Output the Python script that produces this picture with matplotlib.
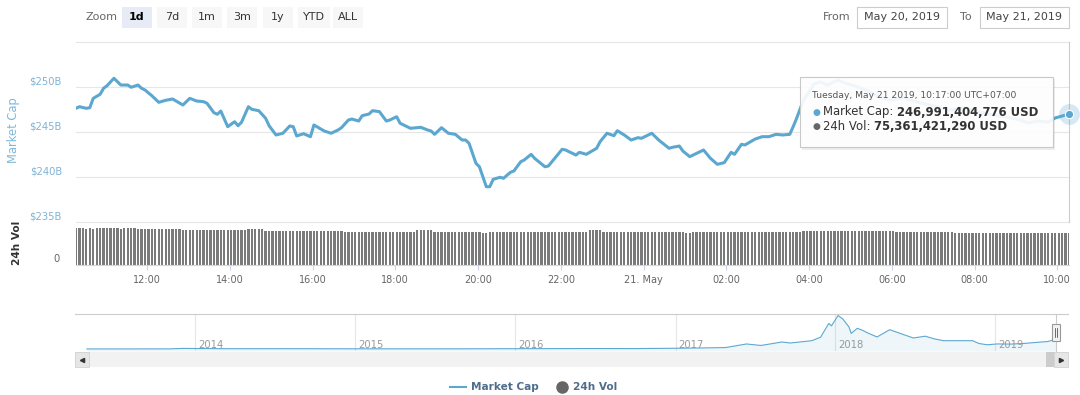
import matplotlib
matplotlib.use("Agg")
import matplotlib.pyplot as plt
import matplotlib.dates as mdates
import matplotlib.transforms as mtransforms
from matplotlib.patches import Rectangle
from matplotlib.lines import Line2D
import numpy as np
import pandas as pd

plt.rcParams['font.family'] = ['DejaVu Sans']

# ---------------- data ----------------
start_time = "2019-05-20 10:17"
end_time = "2019-05-21 10:17"

# market cap (billions USD), minutes after start_time
mcap_offset_min = [0, 5, 15, 20, 25, 35, 40, 45, 55, 65, 75, 80, 90, 95, 100, 110, 120, 130, 140, 155,
                   165, 175, 185, 190, 200, 205, 210, 220, 230, 235, 240, 250, 255, 265, 275, 280, 290, 300, 310, 315,
                   320, 330, 340, 345, 360, 370, 380, 385, 395, 400, 410, 415, 425, 430, 440, 450, 455, 465, 470, 485,
                   500, 510, 515, 520, 530, 540, 550, 560, 565, 570, 580, 585, 595, 600, 605, 615, 620, 630, 635, 645,
                   650, 660, 665, 680, 685, 705, 710, 725, 730, 740, 755, 760, 770, 780, 785, 795, 805, 815, 820, 835,
                   845, 860, 865, 875, 880, 890, 900, 910, 920, 930, 940, 950, 955, 965, 970, 980, 985, 995, 1005, 1015,
                   1025, 1035, 1040, 1045, 1055, 1065, 1070, 1080, 1090, 1105, 1115, 1130, 1145, 1160, 1180, 1200, 1225, 1245, 1265, 1290,
                   1310, 1330, 1355, 1370, 1380, 1395, 1410, 1420, 1440]
mcap_billion = [247.63, 247.81, 247.63, 247.70, 248.74, 249.19, 249.86, 250.14, 250.97, 250.22, 250.22, 249.97, 250.22, 249.86, 249.67, 249.03, 248.30, 248.52, 248.67, 248.00,
                248.74, 248.44, 248.37, 248.19, 247.14, 246.97, 247.33, 245.59, 246.14, 245.70, 246.08, 247.81, 247.52, 247.37, 246.52, 245.70, 244.67, 244.86, 245.67, 245.59,
                244.56, 244.81, 244.48, 245.78, 245.11, 244.86, 245.22, 245.48, 246.33, 246.44, 246.22, 246.81, 247.00, 247.37, 247.26, 246.22, 246.33, 246.70, 245.97, 245.41,
                245.52, 245.22, 245.11, 244.74, 245.48, 244.86, 244.74, 244.11, 244.11, 243.74, 241.52, 241.14, 238.92, 238.92, 239.74, 239.97, 239.86, 240.52, 240.67, 241.70,
                241.89, 242.52, 242.08, 241.14, 241.22, 243.08, 243.00, 242.44, 242.74, 242.52, 243.19, 243.92, 244.86, 244.59, 245.14, 244.67, 244.11, 244.37, 244.30, 244.86,
                244.11, 243.19, 243.30, 243.44, 242.89, 242.26, 242.63, 243.00, 242.08, 241.41, 241.59, 242.74, 242.52, 243.63, 243.56, 244.00, 244.22, 244.48, 244.48, 244.74,
                244.67, 244.74, 245.59, 246.52, 248.56, 249.67, 250.33, 250.56, 250.22, 250.78, 250.44, 250.11, 249.67, 249.11, 248.56, 248.78, 248.22, 247.89, 247.44, 247.67,
                247.22, 246.89, 246.56, 246.33, 246.00, 246.22, 246.11, 246.56, 246.99]

# 24h volume (billions USD), one bar every 5 minutes from start_time
vol_step_min = 5
vol_billion = [
    85.2, 85.0, 85.3, 84.8, 85.1, 84.6, 85.3, 85.4, 85.0, 84.9, 85.2, 85.0,
    85.1, 84.8, 85.0, 85.3, 85.1, 84.9, 84.7, 84.5, 83.2, 83.0, 82.9, 83.1,
    83.0, 82.8, 83.0, 82.7, 82.9, 83.0, 82.6, 82.4, 81.6, 81.5, 81.4, 81.5,
    81.6, 81.4, 81.5, 81.3, 81.5, 81.6, 81.4, 81.5, 81.3, 81.5, 81.4, 81.6,
    81.5, 81.7, 83.4, 83.6, 83.5, 83.3, 83.4, 80.2, 80.0, 79.9, 80.1, 80.0,
    79.8, 80.0, 80.1, 79.9, 80.0, 79.8, 80.0, 80.1, 79.9, 79.8, 80.0, 79.9,
    79.6, 79.5, 79.4, 79.6, 79.5, 79.3, 77.6, 77.5, 77.4, 77.6, 77.5, 77.3,
    77.5, 77.6, 77.4, 77.5, 77.3, 77.5, 77.6, 77.4, 77.5, 77.5, 77.3, 77.4,
    77.5, 77.6, 77.4, 80.6, 80.8, 80.7, 80.5, 80.4, 77.6, 77.5, 77.4, 77.5,
    77.6, 77.4, 77.5, 77.3, 77.5, 77.6, 77.4, 77.5, 77.2, 75.6, 75.4, 75.5,
    77.5, 77.6, 77.4, 77.5, 77.3, 77.5, 77.6, 77.4, 77.5, 77.5, 77.3, 77.4,
    77.5, 77.4, 77.6, 77.5, 77.3, 77.5, 77.4, 77.6, 77.5, 77.3, 77.4, 77.5,
    77.6, 77.4, 77.5, 77.3, 77.5, 80.4, 80.6, 80.5, 80.3, 77.6, 77.5, 77.4,
    77.5, 77.3, 77.5, 77.6, 77.4, 77.5, 77.5, 77.3, 77.4, 77.5, 77.6, 77.4,
    77.5, 77.3, 77.5, 77.6, 77.4, 77.5, 77.3, 77.4, 77.5, 75.5, 75.3, 77.4,
    77.5, 77.6, 77.4, 77.5, 77.3, 77.5, 77.6, 77.4, 77.5, 77.5, 77.3, 77.4,
    77.5, 77.4, 77.6, 77.5, 77.3, 77.5, 77.4, 77.6, 77.5, 77.3, 77.4, 77.5,
    77.6, 77.4, 77.5, 77.3, 77.5, 77.6, 77.4, 79.2, 79.0, 79.1, 78.9, 79.0,
    79.1, 79.0, 78.8, 79.0, 79.2, 79.1, 78.9, 79.0, 79.1, 79.0, 78.8, 79.0,
    79.1, 79.0, 78.9, 79.0, 79.1, 78.9, 79.0, 78.8, 78.9, 79.0, 77.4, 77.5,
    77.6, 77.4, 77.5, 77.3, 77.5, 77.6, 77.4, 77.5, 77.5, 77.3, 77.4, 77.5,
    77.4, 77.6, 77.5, 74.0, 74.1, 73.9, 74.0, 74.2, 73.8, 74.0, 74.1, 73.9,
    74.0, 73.8, 74.1, 74.0, 73.9, 74.0, 74.2, 74.0, 73.9, 74.1, 74.0, 73.8,
    74.0, 74.1, 73.9, 74.0, 74.1, 73.9, 74.0, 75.3, 75.5, 75.4, 75.3, 75.4,
    75.36]

x_tick_times = ["2019-05-20 12:00", "2019-05-20 14:00", "2019-05-20 16:00", "2019-05-20 18:00",
                "2019-05-20 20:00", "2019-05-20 22:00", "2019-05-21 00:00", "2019-05-21 02:00",
                "2019-05-21 04:00", "2019-05-21 06:00", "2019-05-21 08:00", "2019-05-21 10:00"]
x_tick_labels = ["12:00", "14:00", "16:00", "18:00", "20:00", "22:00", "21. May",
                 "02:00", "04:00", "06:00", "08:00", "10:00"]
grid_values = [235, 240, 245, 250, 255]
y_tick_values = [235, 240, 245, 250]
y_tick_labels = ["$235B", "$240B", "$245B", "$250B"]

# navigator: total market cap history (billions USD)
nav_dates = ["2013-04-28", "2013-08-01", "2013-11-01", "2013-12-04", "2014-01-15", "2014-04-01", "2014-08-01",
             "2014-12-01", "2015-04-01", "2015-09-01", "2016-01-01", "2016-06-15", "2016-10-01", "2017-01-01",
             "2017-03-01", "2017-04-25", "2017-06-12", "2017-07-15", "2017-09-01", "2017-09-20", "2017-11-08",
             "2017-11-28", "2017-12-17", "2017-12-23", "2018-01-07", "2018-01-18", "2018-02-01", "2018-02-06",
             "2018-02-20", "2018-03-04", "2018-03-15", "2018-04-06", "2018-05-05", "2018-05-25", "2018-06-28",
             "2018-07-25", "2018-08-15", "2018-09-05", "2018-10-15", "2018-11-10", "2018-11-25", "2018-12-14",
             "2019-01-05", "2019-02-05", "2019-03-05", "2019-04-05", "2019-05-01", "2019-05-21"]
nav_values = [1.5, 1.2, 2.5, 14, 10, 6, 7, 4.5, 3.5, 3.8, 7, 11, 10, 18,
              25, 35, 124, 87, 173, 148, 205, 290, 634, 572, 830, 743, 545, 386,
              512, 463, 401, 297, 478, 401, 272, 317, 250, 205, 205, 205, 135, 104,
              125, 121, 135, 163, 185, 247]
nav_years = [2014, 2015, 2016, 2017, 2018, 2019]

zoom_buttons = ["1d", "7d", "1m", "3m", "1y", "YTD", "ALL"]
selected_button = "1d"
date_from, date_to = "May 20, 2019", "May 21, 2019"

tooltip_header = "Tuesday, May 21 2019, 10:17:00 UTC+07:00"
tooltip_rows = [("Market Cap: ", "246,991,404,776 USD"), ("24h Vol: ", "75,361,421,290 USD")]

# ---------------- styling ----------------
W, H = 1080, 395
LINE = '#5ba7d0'
VOLC = '#7a7a7a'
GRID = '#e6e6e6'

fig = plt.figure(figsize=(W / 100, H / 100), dpi=100)
fig.patch.set_facecolor('white')


def fx(x):
    return x / W


def fy(y):
    return 1 - y / H


def fbox(x0, y0, x1, y1):
    return [fx(x0), fy(y1), (x1 - x0) / W, (y1 - y0) / H]


t0 = pd.Timestamp(start_time)
t1 = pd.Timestamp(end_time)
xlo, xhi = mdates.date2num(t0.to_pydatetime()), mdates.date2num(t1.to_pydatetime())
mcap_t = mdates.date2num((t0 + pd.to_timedelta(mcap_offset_min, unit='m')).to_pydatetime())
vol_t = mdates.date2num((t0 + pd.to_timedelta(np.arange(len(vol_billion)) * vol_step_min, unit='m')).to_pydatetime())
tick_t = mdates.date2num(pd.to_datetime(x_tick_times).to_pydatetime())

# ---------------- main price panel ----------------
ax = fig.add_axes(fbox(76, 42, 1069, 222))
ax.set_xlim(xlo, xhi)
ax.set_ylim(235, 255)
ax.axis('off')
for v in grid_values:
    ax.axhline(v, color=GRID, lw=0.8, zorder=0, clip_on=False)
ax.plot(mcap_t, mcap_billion, color=LINE, lw=2.2, solid_joinstyle='round',
        solid_capstyle='round', zorder=3)
# crosshair and hover marker
ax.axvline(mcap_t[-1], color='#cccccc', lw=0.8, zorder=1, clip_on=False)
ax.plot([mcap_t[-1]], [mcap_billion[-1]], 'o', ms=15, color=LINE, alpha=0.25,
        mec='none', clip_on=False, zorder=12)
ax.plot([mcap_t[-1]], [mcap_billion[-1]], 'o', ms=6, color=LINE, mec='white',
        mew=0.8, clip_on=False, zorder=13)

ylab_tr = mtransforms.blended_transform_factory(fig.transFigure, ax.transData) + \
    mtransforms.ScaledTranslation(0, 5.5 / 100, fig.dpi_scale_trans)
for v, lab in zip(y_tick_values, y_tick_labels):
    ax.text(fx(62), v, lab, transform=ylab_tr, ha='right', va='center',
            fontsize=7.2, color='#7fb3d5', clip_on=False)

fig.text(fx(14), fy(130), "Market Cap", rotation=90, ha='center', va='center',
         fontsize=8.3, color='#7fb8da')

# ---------------- volume panel ----------------
axv = fig.add_axes(fbox(76, 222, 1069, 265))
axv.patch.set_visible(False)
axv.bar(vol_t, vol_billion, width=vol_step_min / 1440 * 0.66, color=VOLC,
        align='center', zorder=2, linewidth=0)
axv.set_xlim(xlo, xhi)
axv.set_ylim(0, 100)
for s in ['top', 'left', 'right']:
    axv.spines[s].set_visible(False)
axv.spines['bottom'].set_color('#ccd6eb')
axv.spines['bottom'].set_linewidth(0.8)
axv.set_yticks([])
axv.set_xticks(tick_t)
axv.set_xticklabels(x_tick_labels, color='#666666', fontsize=7)
axv.tick_params(axis='x', length=3.6, color='#ccd6eb', width=0.8, pad=3.5)
vol0_tr = mtransforms.blended_transform_factory(fig.transFigure, axv.transData) + \
    mtransforms.ScaledTranslation(0, 5.5 / 100, fig.dpi_scale_trans)
axv.text(fx(60), 0, "0", transform=vol0_tr, ha='right', va='center',
         fontsize=7.2, color='#666666', clip_on=False)
fig.text(fx(17), fy(243), "24h Vol", rotation=90, ha='center', va='center',
         fontsize=7.6, color='#333333', fontweight='bold')

# ---------------- navigator ----------------
axn = fig.add_axes(fbox(75, 314, 1068, 351))
nav_t = mdates.date2num(pd.to_datetime(nav_dates).to_pydatetime())
axn.fill_between(nav_t, nav_values, -50, color=LINE, alpha=0.1, lw=0)
axn.plot(nav_t, nav_values, color=LINE, lw=0.8)
axn.set_xlim(mdates.date2num(pd.Timestamp("2013-04-01").to_pydatetime()),
             mdates.date2num(pd.Timestamp("2019-06-16").to_pydatetime()))
axn.set_ylim(-50, 867)
axn.set_xticks([])
axn.set_yticks([])
for s in ['bottom', 'left', 'right']:
    axn.spines[s].set_visible(False)
axn.spines['top'].set_color('#cccccc')
axn.spines['top'].set_linewidth(0.8)
yr_tr = mtransforms.blended_transform_factory(axn.transData, axn.transAxes) + \
    mtransforms.ScaledTranslation(3 / 100, 0, fig.dpi_scale_trans)
for yr in nav_years:
    yt = mdates.date2num(pd.Timestamp(f"{yr}-01-01").to_pydatetime())
    axn.axvline(yt, color=GRID, lw=0.8, zorder=0)
    axn.text(yt, 0.17, str(yr), transform=yr_tr, ha='left', va='center',
             fontsize=7.2, color='#999999')

# navigator handle (selected range)
fig.add_artist(Line2D([fx(1056), fx(1056)], [fy(314), fy(351)], transform=fig.transFigure,
                      color='#cccccc', lw=0.8))
fig.add_artist(Rectangle((fx(1052), fy(341)), 8 / W, 17 / H, transform=fig.transFigure,
                         facecolor='#f2f2f2', edgecolor='#999999', lw=0.8, zorder=5))
for xx in (1055, 1057):
    fig.add_artist(Line2D([fx(xx), fx(xx)], [fy(328), fy(337)], transform=fig.transFigure,
                          color='#333333', lw=0.5, zorder=6))

# scrollbar
fig.add_artist(Rectangle((fx(75), fy(367)), 993 / W, 15 / H, transform=fig.transFigure,
                         facecolor='#f2f2f2', edgecolor='none'))
fig.add_artist(Rectangle((fx(75), fy(367)), 14 / W, 15 / H, transform=fig.transFigure,
                         facecolor='#e6e6e6', edgecolor='#cccccc', lw=0.5))
fig.add_artist(Rectangle((fx(1054), fy(367)), 14 / W, 15 / H, transform=fig.transFigure,
                         facecolor='#e6e6e6', edgecolor='#cccccc', lw=0.5))
fig.add_artist(Rectangle((fx(1046), fy(367)), 8 / W, 15 / H, transform=fig.transFigure,
                         facecolor='#cccccc', edgecolor='none'))
fig.add_artist(Line2D([fx(82)], [fy(359.5)], transform=fig.transFigure, marker='<',
                      ms=3, color='#333333', lw=0))
fig.add_artist(Line2D([fx(1061)], [fy(359.5)], transform=fig.transFigure, marker='>',
                      ms=3, color='#333333', lw=0))

# ---------------- legend ----------------
fig.add_artist(Line2D([fx(450), fx(466)], [fy(387), fy(387)], transform=fig.transFigure,
                      color=LINE, lw=1.5))
fig.text(fx(471), fy(387), "Market Cap", ha='left', va='center', fontsize=7.6,
         fontweight='bold', color='#4f6d8c')
fig.add_artist(Line2D([fx(562)], [fy(387)], transform=fig.transFigure, marker='o',
                      ms=8, color='#666666', lw=0))
fig.text(fx(573), fy(387), "24h Vol", ha='left', va='center', fontsize=7.6,
         fontweight='bold', color='#4f6d8c')

# ---------------- range selector ----------------
fig.text(fx(85), fy(17.5), "Zoom", ha='left', va='center', fontsize=8, color='#666666')
btn_x = [122, 157, 192, 227, 263, 298, 333]
btn_w = [30, 30, 30, 30, 30, 32, 30]
for lab, bx, bw in zip(zoom_buttons, btn_x, btn_w):
    sel = lab == selected_button
    fig.add_artist(Rectangle((fx(bx), fy(28)), bw / W, 21 / H, transform=fig.transFigure,
                             facecolor='#e6ebf5' if sel else '#f7f7f7', edgecolor='none'))
    fig.text(fx(bx + bw / 2), fy(17.5), lab, ha='center', va='center', fontsize=8,
             color='#000000' if sel else '#333333', fontweight='bold' if sel else 'normal')

fig.text(fx(837), fy(17.5), "From", ha='center', va='center', fontsize=8, color='#666666')
fig.text(fx(966), fy(17.5), "To", ha='center', va='center', fontsize=8, color='#666666')
for (x0, x1), lab in zip([(857, 947), (980, 1069)], [date_from, date_to]):
    fig.add_artist(Rectangle((fx(x0), fy(28)), (x1 - x0) / W, 21 / H, transform=fig.transFigure,
                             facecolor='white', edgecolor='#cccccc', lw=0.8))
    fig.text(fx((x0 + x1) / 2), fy(17.5), lab, ha='center', va='center', fontsize=8,
             color='#444444')

# ---------------- tooltip ----------------
fig.add_artist(Rectangle((fx(802), fy(149.5)), 253 / W, 70 / H, transform=fig.transFigure,
                         facecolor='black', alpha=0.07, edgecolor='none', zorder=9))
fig.add_artist(Rectangle((fx(800), fy(147)), 253 / W, 70 / H, transform=fig.transFigure,
                         facecolor=(1, 1, 1, 0.91), edgecolor='#c8c8c8', lw=0.8, zorder=10))
fig.text(fx(812), fy(96), tooltip_header, ha='left', va='center', fontsize=6.6,
         color='#555555', zorder=11)
renderer = fig.canvas.get_renderer()
for (lab, val), yy, bc in zip(tooltip_rows, [112, 127], [LINE, '#666666']):
    fig.text(fx(816), fy(yy), "\u25CF", ha='center', va='center', fontsize=6.5, color=bc, zorder=11)
    t = fig.text(fx(823), fy(yy), lab, ha='left', va='center', fontsize=8.4,
                 color='#333333', zorder=11)
    bb = t.get_window_extent(renderer=renderer)
    fig.text(bb.x1 / (W), fy(yy), val, ha='left', va='center', fontsize=8.4,
             color='#333333', fontweight='bold', zorder=11)

fig.savefig("out.png", dpi=100, facecolor='white')
